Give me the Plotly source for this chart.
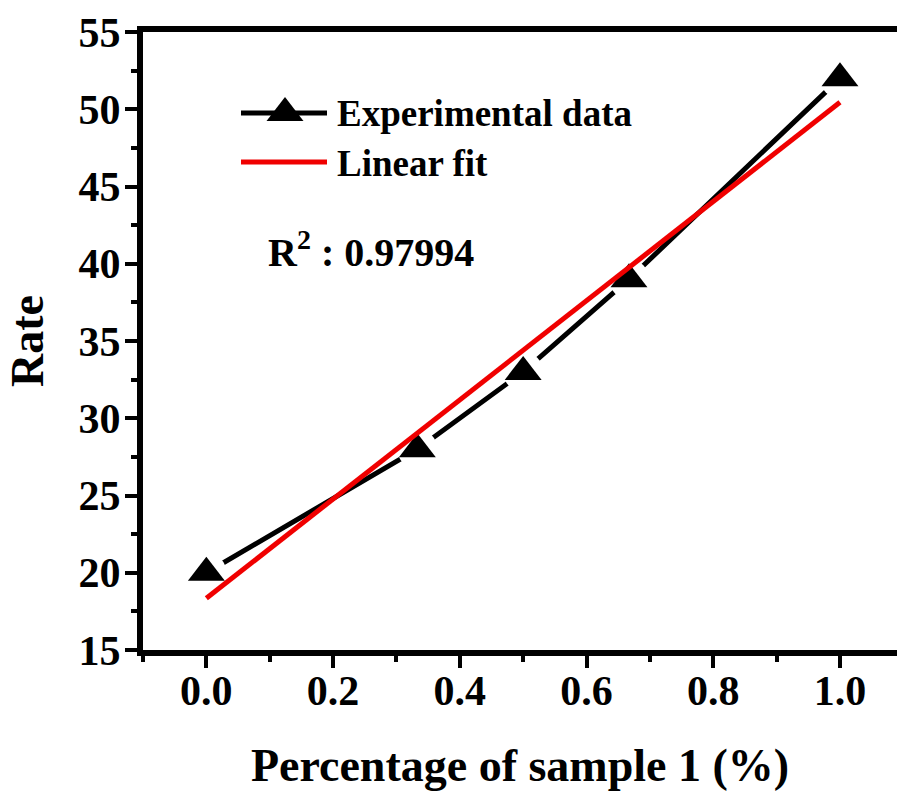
import plotly.graph_objects as go
import math

# ---- data ----
x_exp = [0.0, 0.333, 0.5, 0.667, 1.0]
y_exp = [20, 28, 33, 39, 52]
x_fit = [0.0, 1.0]
y_fit = [18.35, 50.45]
r2_text = "R<sup>2</sup> : 0.97994"
x_title = "Percentage of sample 1 (%)"
y_title = "Rate"
legend_names = ["Experimental data", "Linear fit"]

FONT = "Liberation Serif"
W, H = 897, 791
ML, MR, MT, MB = 143, 0, 32, 141
PW, PH = W - ML - MR, H - MT - MB

def px(X):
    return (X - ML) / PW

def py(Y):
    return (H - MB - Y) / PH

MS = 32  # marker size

fig = go.Figure()
# black connecting line
fig.add_trace(go.Scatter(x=x_exp, y=y_exp, mode="lines",
                         line=dict(color="black", width=5),
                         showlegend=False, hoverinfo="skip"))
# white halos -> Origin-style gaps around symbols
fig.add_trace(go.Scatter(x=x_exp, y=y_exp, mode="markers",
                         marker=dict(symbol="circle", size=40, color="white"),
                         showlegend=False, hoverinfo="skip"))
# triangles
fig.add_trace(go.Scatter(x=x_exp, y=y_exp, mode="markers",
                         marker=dict(symbol="triangle-up", size=MS, color="black"),
                         name=legend_names[0], showlegend=False))
# linear fit
fig.add_trace(go.Scatter(x=x_fit, y=y_fit, mode="lines",
                         line=dict(color="#f00000", width=5),
                         name=legend_names[1], showlegend=False))

# ---- manual legend ----
shapes = []
ly1, ly2 = 113, 162
shapes.append(dict(type="line", xref="paper", yref="paper",
                   x0=px(241), x1=px(327), y0=py(ly1), y1=py(ly1),
                   line=dict(color="black", width=5)))
shapes.append(dict(type="line", xref="paper", yref="paper",
                   x0=px(241), x1=px(327), y0=py(ly2), y1=py(ly2),
                   line=dict(color="#f00000", width=5)))
r = MS / 2
rt = r * 2 / math.sqrt(3)
r2 = r / 2
shapes.append(dict(type="path", xref="paper", yref="paper",
                   xsizemode="pixel", ysizemode="pixel",
                   xanchor=px(285), yanchor=py(ly1),
                   path=f"M{-rt:.2f},{-r2:.2f} L{rt:.2f},{-r2:.2f} L0,{r:.2f} Z",
                   fillcolor="black", line=dict(width=0)))

annotations = [
    dict(text=legend_names[0], x=px(335), y=py(114), xref="paper", yref="paper",
         xanchor="left", yanchor="middle", showarrow=False,
         font=dict(family=FONT, size=37, color="black", weight="bold")),
    dict(text=legend_names[1], x=px(335), y=py(163), xref="paper", yref="paper",
         xanchor="left", yanchor="middle", showarrow=False,
         font=dict(family=FONT, size=37, color="black", weight="bold")),
    dict(text=r2_text, x=px(266), y=py(249), xref="paper", yref="paper",
         xanchor="left", yanchor="middle", showarrow=False,
         font=dict(family=FONT, size=40, color="black", weight="bold")),
]

axis_common = dict(
    showgrid=False, zeroline=False, showline=True, linecolor="black", linewidth=6,
    ticks="outside", ticklen=12, tickwidth=4, tickcolor="black",
    tickfont=dict(family=FONT, size=42, color="black", weight="bold"),
)

fig.update_layout(
    width=W, height=H,
    margin=dict(l=ML, r=MR, t=MT, b=MB),
    paper_bgcolor="white", plot_bgcolor="white",
    showlegend=False,
    shapes=shapes, annotations=annotations,
    xaxis=dict(range=[-0.1, 1.09], tick0=0, dtick=0.2, tickformat=".1f",
               mirror=True, ticklabelstandoff=-13,
               minor=dict(ticks="outside", ticklen=6, tickwidth=4, tickcolor="black",
                          dtick=0.1, tick0=0),
               title=dict(text=x_title, standoff=40,
                          font=dict(family=FONT, size=46, color="black", weight="bold")),
               **axis_common),
    yaxis=dict(range=[15, 55], tick0=15, dtick=5, mirror=False, ticklabelstandoff=-4,
               minor=dict(ticks="outside", ticklen=6, tickwidth=4, tickcolor="black",
                          dtick=2.5, tick0=15),
               title=dict(text=y_title, standoff=22,
                          font=dict(family=FONT, size=46, color="black", weight="bold")),
               **axis_common),
)

fig.write_html("out.html")
